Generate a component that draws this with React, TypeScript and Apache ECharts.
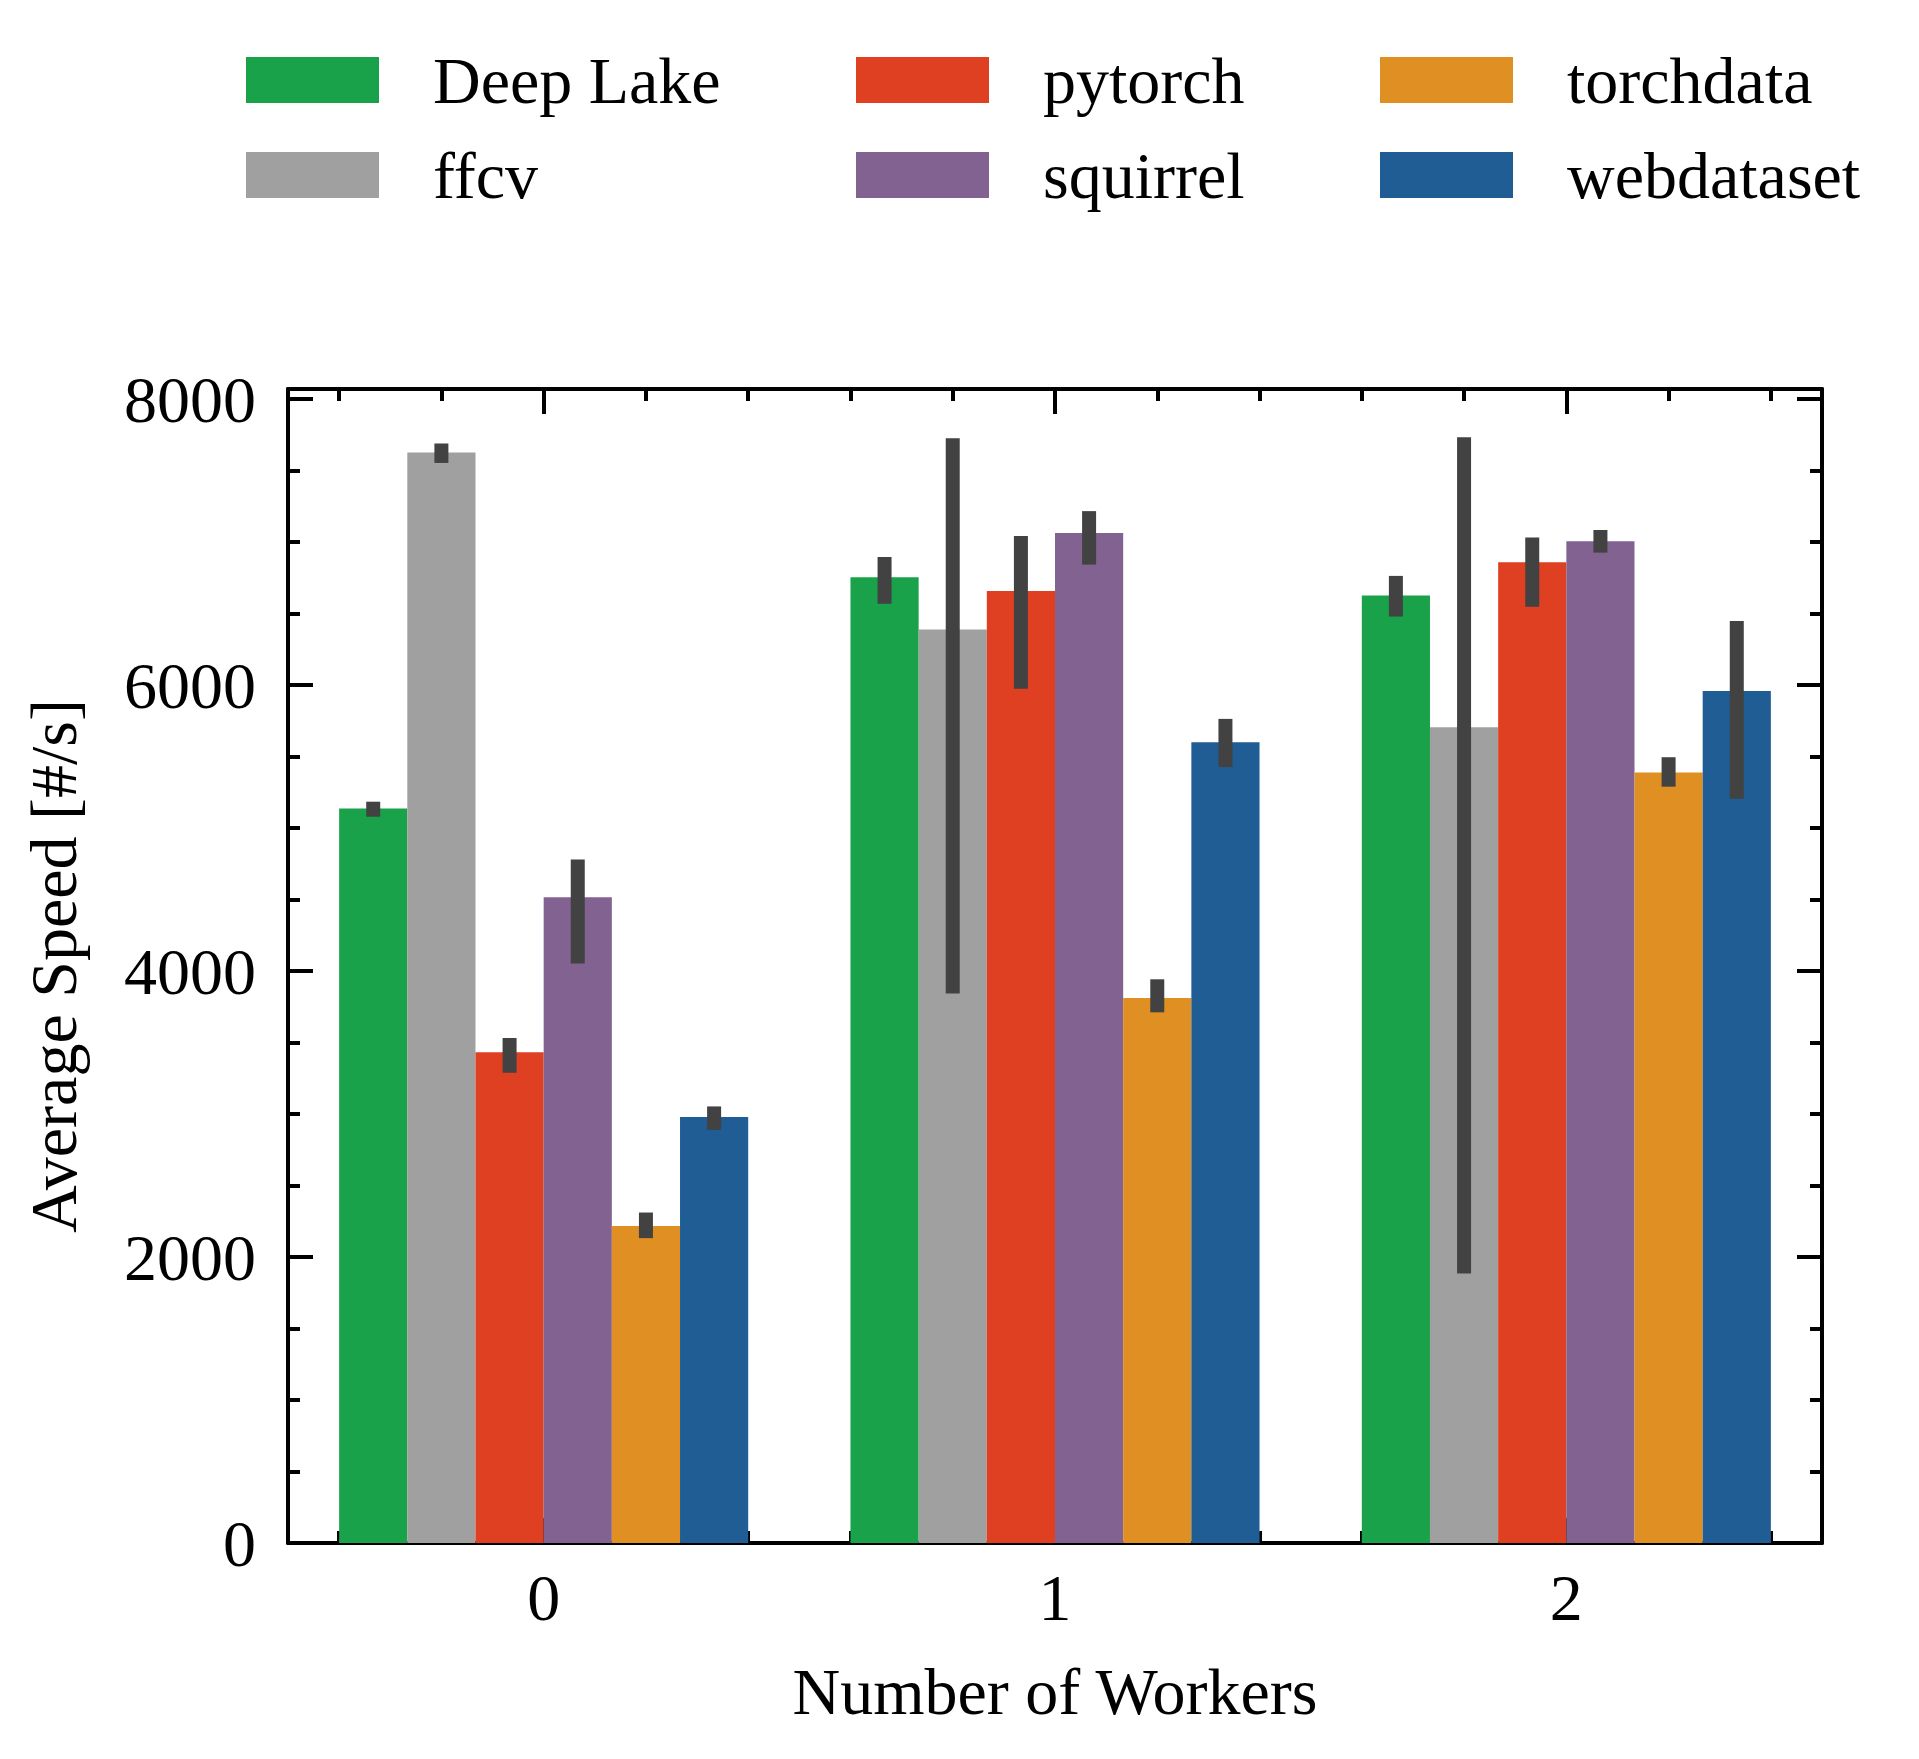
import React, { useEffect, useRef } from "react";
import * as echarts from "echarts";

const categories = ["0", "1", "2"];
const seriesNames = ["Deep Lake", "ffcv", "pytorch", "squirrel", "torchdata", "webdataset"];
const seriesColors = ["#1aa24a", "#a0a0a0", "#df4022", "#826290", "#e08f22", "#205d94"];

const deepLake = [5137, 6753, 6626];
const ffcv = [7626, 6389, 5705];
const pytorch = [3432, 6658, 6858];
const squirrel = [4516, 7063, 7005];
const torchdata = [2216, 3811, 5389];
const webdataset = [2979, 5600, 5958];

// error bar [low, high] per category
const deepLakeErr = [[5079, 5184], [6568, 6895], [6479, 6763]];
const ffcvErr = [[7553, 7689], [3842, 7726], [1884, 7732]];
const pytorchErr = [[3289, 3532], [5974, 7042], [6547, 7032]];
const squirrelErr = [[4053, 4779], [6842, 7216], [6926, 7084]];
const torchdataErr = [[2132, 2311], [3711, 3942], [5289, 5495]];
const webdatasetErr = [[2889, 3053], [5426, 5763], [5205, 6447]];

const yMajorTicks = [0, 2000, 4000, 6000, 8000];
const yMinorTicks = [500, 1000, 1500, 2500, 3000, 3500, 4500, 5000, 5500, 6500, 7000, 7500];
const xMajorTicks = [0, 1, 2];
const xMinorTicks = [-0.4, -0.2, 0.2, 0.4, 0.6, 0.8, 1.2, 1.4, 1.6, 1.8, 2.2, 2.4];

const FONT = "'Liberation Serif', 'Times New Roman', 'DejaVu Serif', serif";
const FS = 66;
const YMAX = 8070;

export default function App() {
  const ref = useRef<HTMLDivElement>(null);
  useEffect(() => {
    if (!ref.current) return;
    const chart = echarts.init(ref.current, undefined, { renderer: "svg" });
    const values = [deepLake, ffcv, pytorch, squirrel, torchdata, webdataset];
    const errs = [deepLakeErr, ffcvErr, pytorchErr, squirrelErr, torchdataErr, webdatasetErr];
    const errData: number[][] = [];
    errs.forEach((e, s) => e.forEach((lh, c) => errData.push([c, s, lh[0], lh[1]])));

    const tickLine = { color: "#000", width: 4 };
    const hiddenValueX = (pos: string, ticks: number[], len: number, line: boolean) => ({
      type: "value",
      position: pos,
      min: -0.5,
      max: 2.5,
      axisLine: { show: line, onZero: false, lineStyle: { color: "#000", width: 4 } },
      axisLabel: { show: false },
      splitLine: { show: false },
      axisTick: { show: true, inside: true, length: len, customValues: ticks, lineStyle: tickLine },
    });
    const valueY = (pos: string, ticks: number[], len: number, line: boolean, labels: boolean) => ({
      type: "value",
      position: pos,
      min: 0,
      max: YMAX,
      axisLine: { show: line, onZero: false, lineStyle: { color: "#000", width: 4 } },
      axisLabel: labels
        ? {
            show: true,
            customValues: yMajorTicks,
            formatter: (v: number) => String(Math.round(v)),
            fontSize: FS,
            fontFamily: FONT,
            color: "#000",
            margin: 32,
          }
        : { show: false },
      splitLine: { show: false },
      axisTick: { show: true, inside: true, length: len, customValues: ticks, lineStyle: tickLine },
    });

    const legendBase = {
      orient: "vertical",
      top: 47,
      padding: 0,
      itemWidth: 133,
      itemHeight: 46,
      itemGap: 29,
      icon: "rect",
      selectedMode: false,
      textStyle: { fontSize: FS, fontFamily: FONT, color: "#000", padding: [0, 0, 0, 49] },
    };

    chart.setOption({
      animation: false,
      backgroundColor: "#fff",
      legend: [
        { ...legendBase, left: 246, data: ["Deep Lake", "ffcv"] },
        { ...legendBase, left: 856, data: ["pytorch", "squirrel"] },
        { ...legendBase, left: 1380, data: ["torchdata", "webdataset"] },
      ],
      grid: { left: 288, top: 389, width: 1534, height: 1154, containLabel: false },
      xAxis: [
        {
          type: "category",
          data: categories,
          position: "bottom",
          axisLine: { show: true, onZero: false, lineStyle: { color: "#000", width: 4 } },
          axisTick: { show: false },
          axisLabel: { fontSize: FS, fontFamily: FONT, color: "#000", margin: 21 },
          splitLine: { show: false },
          name: "Number of Workers",
          nameLocation: "middle",
          nameGap: 115,
          nameTextStyle: { fontSize: FS, fontFamily: FONT, color: "#000" },
        },
        hiddenValueX("bottom", xMajorTicks, 25, false),
        hiddenValueX("bottom", xMinorTicks, 12, false),
        hiddenValueX("top", xMajorTicks, 25, true),
        hiddenValueX("top", xMinorTicks, 12, false),
      ],
      yAxis: [
        {
          ...valueY("left", yMajorTicks, 25, true, true),
          name: "Average Speed [#/s]",
          nameLocation: "middle",
          nameGap: 202,
          nameRotate: 90,
          nameTextStyle: { fontSize: FS, fontFamily: FONT, color: "#000" },
        },
        valueY("left", yMinorTicks, 12, false, false),
        valueY("right", yMajorTicks, 25, true, false),
        valueY("right", yMinorTicks, 12, false, false),
      ],
      series: [
        ...seriesNames.map((name, i) => ({
          name,
          type: "bar",
          xAxisIndex: 0,
          yAxisIndex: 0,
          data: values[i],
          barGap: "0%",
          barCategoryGap: "20%",
          itemStyle: { color: seriesColors[i] },
          emphasis: { disabled: true },
        })),
        {
          type: "custom",
          name: "err",
          xAxisIndex: 0,
          yAxisIndex: 0,
          data: errData,
          encode: { x: 0, y: 2 },
          z: 10,
          renderItem: (params: any, api: any) => {
            const c = api.value(0);
            const s = api.value(1);
            const lo = api.value(2);
            const hi = api.value(3);
            const center = api.coord([c, 0])[0];
            const band = api.size([1, 0])[0];
            const bw = (band * 0.8) / 6;
            const x = center - band * 0.4 + bw * (s + 0.5);
            const y1 = api.coord([c, hi])[1];
            const y2 = api.coord([c, lo])[1];
            return {
              type: "rect",
              shape: { x: x - 7, y: y1, width: 14, height: y2 - y1 },
              style: { fill: "#424242" },
            };
          },
        },
      ],
    } as any);
    return () => chart.dispose();
  }, []);
  return (
    <div
      ref={ref}
      style={{ position: "absolute", left: 0, top: 0, width: 1919, height: 1759 }}
    />
  );
}
